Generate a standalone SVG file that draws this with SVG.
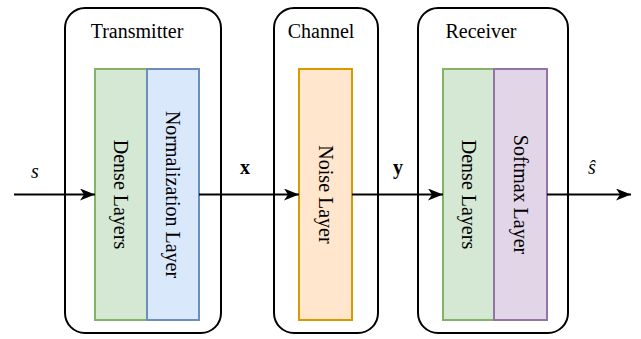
<svg xmlns="http://www.w3.org/2000/svg" width="641" height="339" viewBox="0 0 641 339">
<style>
.box{fill:#ffffff;stroke:#000000;stroke-width:2}
.t{font-family:"Liberation Serif","Times New Roman",serif;font-size:20px;fill:#000000}
.c{text-anchor:middle}
.green{fill:#d5e8d4;stroke:#82b366;stroke-width:2}
.blue{fill:#dae8fc;stroke:#6c8ebf;stroke-width:2}
.orange{fill:#ffe6cc;stroke:#d79b00;stroke-width:2}
.purple{fill:#e1d5e7;stroke:#9673a6;stroke-width:2}
.edge{stroke:#000000;stroke-width:2;fill:none;marker-end:url(#arr)}
</style>
<defs>
<marker id="arr" markerUnits="userSpaceOnUse" markerWidth="16" markerHeight="12" refX="15" refY="6" orient="auto">
<path d="M0,0 L15,6 L0,12 L4,6 Z" fill="#000000"/>
</marker>
</defs>
<g id="transmitter">
<rect class="box" x="65" y="8" width="156" height="325" rx="20"/>
<text class="t c" x="137" y="38">Transmitter</text>
</g>
<g id="channel">
<rect class="box" x="274" y="8" width="104" height="325" rx="20"/>
<text class="t c" x="321" y="38">Channel</text>
</g>
<g id="receiver">
<rect class="box" x="418" y="8" width="150" height="325" rx="20"/>
<text class="t c" x="481" y="38">Receiver</text>
</g>
<g id="tx-dense">
<rect class="green" x="95" y="69" width="52" height="251"/>
<text class="t c" transform="translate(121,194.5) rotate(90)" dy="0.33em">Dense Layers</text>
</g>
<g id="tx-norm">
<rect class="blue" x="147" y="69" width="52" height="251"/>
<text class="t c" transform="translate(173,194.5) rotate(90)" dy="0.33em">Normalization Layer</text>
</g>
<g id="noise">
<rect class="orange" x="299" y="69" width="53" height="251"/>
<text class="t c" transform="translate(325.5,194.5) rotate(90)" dy="0.33em">Noise Layer</text>
</g>
<g id="rx-dense">
<rect class="green" x="443" y="69" width="51" height="251"/>
<text class="t c" transform="translate(468.5,194.5) rotate(90)" dy="0.33em">Dense Layers</text>
</g>
<g id="rx-softmax">
<rect class="purple" x="494" y="69" width="53" height="251"/>
<text class="t c" transform="translate(520.5,194.5) rotate(90)" dy="0.33em">Softmax Layer</text>
</g>
<g id="connectors">
<line class="edge" x1="14" y1="194.5" x2="95" y2="194.5"/>
<line class="edge" x1="199" y1="194.5" x2="299" y2="194.5"/>
<line class="edge" x1="352" y1="194.5" x2="443" y2="194.5"/>
<line class="edge" x1="547" y1="194.5" x2="631" y2="194.5"/>
<text class="t c" x="35" y="178" font-style="italic">s</text>
<text class="t c" x="245" y="174" font-weight="bold">x</text>
<text class="t c" x="398" y="174" font-weight="bold">y</text>
<text class="t c" x="592" y="174" font-style="italic">ŝ</text>
</g>
</svg>
